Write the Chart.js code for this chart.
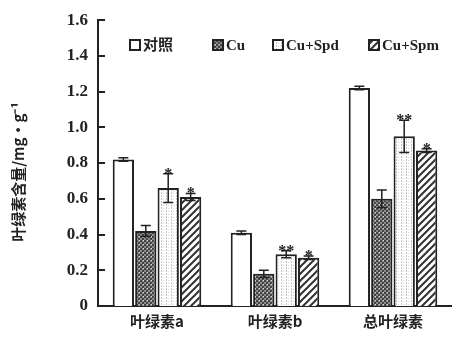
<!DOCTYPE html>
<html>
<head>
<meta charset="utf-8">
<script src="https://cdn.jsdelivr.net/npm/chart.js@4"></script>
<style>
  body { margin: 0; background: #fff; }
  #wrap { width: 452px; height: 338px; }
</style>
</head>
<body>
<div id="wrap"><canvas id="chl-chart"></canvas></div>
<script>
var categories = ["叶绿素a", "叶绿素b", "总叶绿素"];
var seriesNames = ["对照", "Cu", "Cu+Spd", "Cu+Spm"];
var control = [0.82, 0.41, 1.22];
var cu = [0.42, 0.18, 0.60];
var cuSpd = [0.66, 0.29, 0.95];
var cuSpm = [0.61, 0.27, 0.87];
var errControl = [0.01, 0.01, 0.01];
var errCu = [0.03, 0.02, 0.05];
var errSpd = [0.08, 0.02, 0.09];
var errSpm = [0.02, 0.01, 0.01];
var starsControl = ["", "", ""];
var starsCu = ["", "", ""];
var starsSpd = ["*", "**", "**"];
var starsSpm = ["*", "*", "*"];
var yTicks = [0, 0.2, 0.4, 0.6, 0.8, 1.0, 1.2, 1.4, 1.6];

var context = document.getElementById("chl-chart").getContext("2d");

function makePattern(kind) {
    var c = document.createElement("canvas");
    var g = c.getContext("2d");
    if (kind === "cu") {
        c.width = 4; c.height = 4;
        g.fillStyle = "#8a8a8a"; g.fillRect(0, 0, 4, 4);
        g.fillStyle = "#444"; g.fillRect(0, 0, 2, 2); g.fillRect(2, 2, 2, 2);
        g.fillStyle = "#ddd"; g.fillRect(3, 0, 1, 1);
    } else if (kind === "spd") {
        c.width = 5; c.height = 6;
        g.fillStyle = "#fff"; g.fillRect(0, 0, 5, 6);
        g.fillStyle = "#c4c4c4"; g.fillRect(1, 0, 1, 2); g.fillRect(1, 3, 1, 2);
        g.fillStyle = "#d8d8d8"; g.fillRect(3, 1, 1, 1); g.fillRect(3, 4, 1, 1);
    } else if (kind === "spm") {
        c.width = 7; c.height = 7;
        g.fillStyle = "#fff"; g.fillRect(0, 0, 7, 7);
        g.strokeStyle = "#333"; g.lineWidth = 2;
        g.beginPath();
        g.moveTo(-1, 8); g.lineTo(8, -1);
        g.moveTo(-4, 4); g.lineTo(4, -4);
        g.moveTo(3, 11); g.lineTo(11, 3);
        g.stroke();
    } else {
        c.width = 2; c.height = 2;
        g.fillStyle = "#fff"; g.fillRect(0, 0, 2, 2);
    }
    return context.createPattern(c, "repeat");
}

var fills = [makePattern("white"), makePattern("cu"), makePattern("spd"), makePattern("spm")];
var values = [control, cu, cuSpd, cuSpm];
var errors = [errControl, errCu, errSpd, errSpm];
var stars = [starsControl, starsCu, starsSpd, starsSpm];

var extras = {
    id: "extras",
    afterDraw: function (chart) {
        var ctx = chart.ctx;
        var y = chart.scales.y;
        var area = chart.chartArea;
        ctx.save();
        // inside tick marks
        ctx.strokeStyle = "#222";
        ctx.lineWidth = 2;
        yTicks.forEach(function (t) {
            var py = Math.round(y.getPixelForValue(t));
            ctx.beginPath();
            ctx.moveTo(area.left - 1, py);
            ctx.lineTo(area.left + 7, py);
            ctx.stroke();
        });
        // error bars and stars
        chart.data.datasets.forEach(function (ds, i) {
            var meta = chart.getDatasetMeta(i);
            meta.data.forEach(function (bar, j) {
                var v = ds.data[j];
                var e = errors[i][j];
                var top = y.getPixelForValue(v + e);
                var bot = y.getPixelForValue(v - e);
                ctx.strokeStyle = "#222";
                ctx.lineWidth = 1.5;
                ctx.beginPath();
                ctx.moveTo(bar.x, top); ctx.lineTo(bar.x, bot);
                ctx.moveTo(bar.x - 5, top); ctx.lineTo(bar.x + 5, top);
                ctx.moveTo(bar.x - 5, bot); ctx.lineTo(bar.x + 5, bot);
                ctx.stroke();
                var s = stars[i][j];
                if (s) {
                    ctx.fillStyle = "#222";
                    ctx.font = "bold 16px 'Liberation Serif'";
                    ctx.textAlign = "center";
                    ctx.textBaseline = "alphabetic";
                    ctx.fillText(s, bar.x, top + 5);
                }
            });
        });
        // legend
        var lx = [130, 213, 273, 369];
        var ly = 45;
        ctx.font = "bold 15px 'Liberation Serif', 'Noto Sans CJK SC'";
        ctx.textAlign = "left";
        ctx.textBaseline = "middle";
        seriesNames.forEach(function (name, i) {
            ctx.fillStyle = fills[i];
            ctx.fillRect(lx[i], ly - 5, 10, 10);
            ctx.strokeStyle = "#222";
            ctx.lineWidth = 2;
            ctx.strokeRect(lx[i], ly - 5, 10, 10);
            ctx.fillStyle = "#222";
            ctx.fillText(name, lx[i] + 13, ly + 1);
        });
        // y title
        ctx.translate(18, 172);
        ctx.rotate(-Math.PI / 2);
        ctx.textAlign = "center";
        ctx.font = "bold 15px 'Noto Sans CJK SC'";
        ctx.fillText("叶绿素含量/mg·g⁻¹", 0, 0);
        ctx.restore();
    }
};

var datasets = seriesNames.map(function (name, i) {
    return {
        label: name,
        data: values[i],
        backgroundColor: fills[i],
        borderColor: "#222",
        borderWidth: 2,
        borderSkipped: "bottom",
        categoryPercentage: 0.76,
        barPercentage: 0.95
    };
});

var myChart = new Chart(context, {
    type: "bar",
    data: { labels: categories, datasets: datasets },
    options: {
        responsive: true,
        maintainAspectRatio: false,
        animation: false,
        layout: { padding: { top: 0, right: 0, left: 0, bottom: 0 } },
        plugins: { legend: { display: false }, tooltip: { enabled: false } },
        scales: {
            x: {
                grid: { display: false, drawTicks: false },
                border: { color: "#222", width: 2 },
                ticks: {
                    color: "#222",
                    padding: 6,
                    font: { family: "'Noto Sans CJK SC'", size: 15, weight: "bold" }
                },
                afterFit: function (scale) { scale.height = 32; }
            },
            y: {
                min: 0,
                max: 1.6,
                grid: { display: false, drawTicks: false },
                border: { color: "#222", width: 2 },
                ticks: {
                    stepSize: 0.2,
                    color: "#222",
                    padding: 10,
                    font: { family: "'Liberation Serif'", size: 17, weight: "bold" },
                    callback: function (v) { return v === 0 ? "0" : v.toFixed(1); }
                },
                afterFit: function (scale) { scale.width = 98; }
            }
        }
    },
    plugins: [extras]
});
</script>
</body>
</html>
